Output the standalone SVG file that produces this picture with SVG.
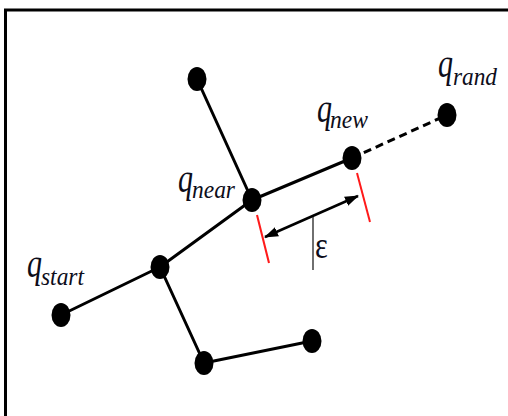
<svg xmlns="http://www.w3.org/2000/svg" width="508" height="416" viewBox="0 0 508 416">
<defs>
<style>
.edge{stroke:#000;stroke-width:3;fill:none;stroke-linecap:round}
.dash{stroke:#000;stroke-width:3;fill:none;stroke-dasharray:8,5}
.node{fill:#000}
.red{stroke:#ff1a1a;stroke-width:2;fill:none}
.q{font-family:"Liberation Serif",serif;font-style:italic;font-size:40px;fill:#0d0d1a}
.sub{font-family:"Liberation Serif",serif;font-style:italic;font-size:26px;fill:#0d0d1a}
.eps{font-family:"Liberation Serif",serif;font-size:38px;fill:#0d0d1a}
</style>
<marker id="ah" viewBox="0 0 14 10" refX="13" refY="5" markerWidth="14" markerHeight="10" markerUnits="userSpaceOnUse" orient="auto-start-reverse">
<path d="M0,0 L14,5 L0,10 Z" fill="#000"/>
</marker>
</defs>
<rect x="5.5" y="10" width="520" height="420" fill="#fff" stroke="#000" stroke-width="3"/>
<g id="connectors">
<line class="edge" x1="197" y1="79" x2="252" y2="200"/>
<line class="edge" x1="252" y1="200" x2="352" y2="158"/>
<line class="dash" x1="352" y1="158" x2="447" y2="115"/>
<line class="edge" x1="252" y1="200" x2="160" y2="267"/>
<line class="edge" x1="160" y1="267" x2="61" y2="315"/>
<line class="edge" x1="160" y1="267" x2="204" y2="363"/>
<line class="edge" x1="204" y1="363" x2="312" y2="341"/>
</g>
<g id="epsilon">
<line class="red" x1="257" y1="215" x2="269" y2="263"/>
<line class="red" x1="357" y1="173" x2="370" y2="222"/>
<line x1="265" y1="237" x2="358" y2="196" stroke="#000" stroke-width="2.5" marker-start="url(#ah)" marker-end="url(#ah)"/>
<line x1="313" y1="217" x2="313" y2="270" stroke="#222" stroke-width="1.3"/>
<text class="eps" transform="translate(315,258) scale(0.8,1)">ε</text>
</g>
<g id="n_top"><ellipse class="node" cx="197" cy="79" rx="9.5" ry="12"/></g>
<g id="n_rand"><ellipse class="node" cx="447" cy="115" rx="9.5" ry="12"/>
<text class="q" transform="translate(438,77) scale(0.75,1)">q</text><text class="sub" x="453" y="85" textLength="44" lengthAdjust="spacingAndGlyphs">rand</text></g>
<g id="n_new"><ellipse class="node" cx="352" cy="158" rx="9.5" ry="12"/>
<text class="q" transform="translate(317,122) scale(0.75,1)">q</text><text class="sub" x="330" y="128" textLength="38" lengthAdjust="spacingAndGlyphs">new</text></g>
<g id="n_near"><ellipse class="node" cx="252" cy="200" rx="9.5" ry="12"/>
<text class="q" transform="translate(178,192) scale(0.75,1)">q</text><text class="sub" x="192" y="198" textLength="43" lengthAdjust="spacingAndGlyphs">near</text></g>
<g id="n_mid"><ellipse class="node" cx="160" cy="267" rx="9.5" ry="12"/></g>
<g id="n_start"><ellipse class="node" cx="61" cy="315" rx="9.5" ry="12"/>
<text class="q" transform="translate(27,277) scale(0.75,1)">q</text><text class="sub" x="41" y="285" textLength="43" lengthAdjust="spacingAndGlyphs">start</text></g>
<g id="n_bot"><ellipse class="node" cx="204" cy="363" rx="9.5" ry="12"/></g>
<g id="n_botr"><ellipse class="node" cx="312" cy="341" rx="9.5" ry="12"/></g>
</svg>
